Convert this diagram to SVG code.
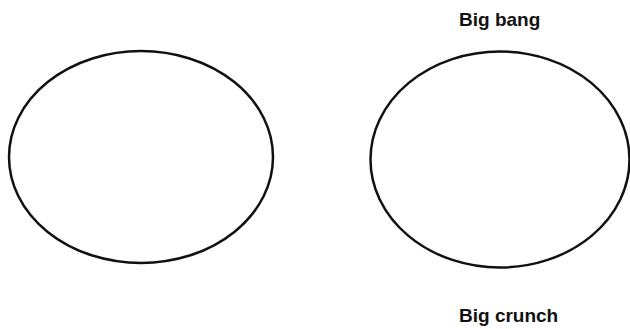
<svg xmlns="http://www.w3.org/2000/svg" width="630" height="329" viewBox="0 0 630 329">
<style>
.e{fill:none;stroke:#111;stroke-width:2.5}
.t{font-family:"Liberation Sans",Arial,sans-serif;font-weight:bold;font-size:19px;fill:#111}
</style>
<rect width="630" height="329" fill="#fff"/>
<g id="left-universe"><ellipse class="e" cx="141" cy="157" rx="132" ry="106"/></g>
<g id="right-universe"><ellipse class="e" cx="500" cy="159.5" rx="129.5" ry="108"/></g>
<g id="big-bang"><text class="t" x="459" y="26">Big bang</text></g>
<g id="big-crunch"><text class="t" x="459" y="322">Big crunch</text></g>
<g id="connectors"></g>
</svg>
